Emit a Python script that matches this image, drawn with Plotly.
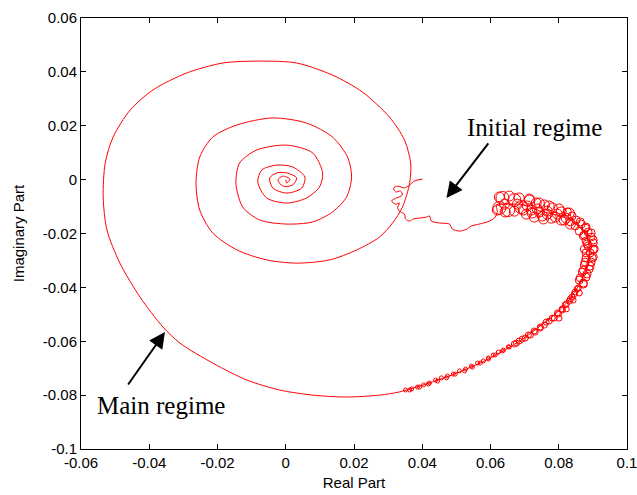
import plotly.graph_objects as go

# ---- trajectory (real, imaginary) ----
initial_re = [0.0401, 0.0377, 0.0363, 0.0348, 0.0328, 0.0316, 0.0322, 0.0336, 0.0342, 0.0325,
              0.0310, 0.0322, 0.0333, 0.0328, 0.0336, 0.0348, 0.0351, 0.0363, 0.0374, 0.0392,
              0.0412, 0.0421, 0.0427, 0.0450, 0.0480, 0.0488, 0.0509, 0.0532, 0.0544, 0.0567,
              0.0597, 0.0614, 0.0620]
initial_im = [0.0002, -0.0005, -0.0020, -0.0031, -0.0024, -0.0031, -0.0046, -0.0042, -0.0057, -0.0068,
              -0.0079, -0.0091, -0.0087, -0.0105, -0.0120, -0.0128, -0.0146, -0.0154, -0.0146, -0.0143,
              -0.0139, -0.0135, -0.0154, -0.0161, -0.0165, -0.0183, -0.0191, -0.0183, -0.0172, -0.0165,
              -0.0154, -0.0139, -0.0117]

band_re = [0.0617, 0.0655, 0.0699, 0.0746, 0.0793, 0.0834, 0.0863, 0.0883, 0.0889, 0.0886,
           0.0872, 0.0854, 0.0825, 0.0790, 0.0746, 0.0699, 0.0641, 0.0576, 0.0509, 0.0430, 0.0333]
band_im = [-0.0094, -0.0091, -0.0094, -0.0117, -0.0131, -0.0150, -0.0180, -0.0209, -0.0261, -0.0310,
           -0.0358, -0.0402, -0.0454, -0.0499, -0.0543, -0.0588, -0.0633, -0.0677, -0.0714, -0.0751, -0.0788]

spiral_re = [0.0275, 0.0178, 0.0079, -0.0018, -0.0114, -0.0214, -0.0310, -0.0360, -0.0427, -0.0486,
             -0.0524, -0.0535, -0.0529, -0.0506, -0.0456, -0.0389, -0.0290, -0.0184, -0.0076, 0.0032,
             0.0137, 0.0225, 0.0304, 0.0348, 0.0366, 0.0363, 0.0342, 0.0313, 0.0275, 0.0208,
             0.0129, 0.0032, -0.0056, -0.0143, -0.0214, -0.0252, -0.0263, -0.0252, -0.0214, -0.0143,
             -0.0038, 0.0061, 0.0137, 0.0181, 0.0193, 0.0178, 0.0137, 0.0079, 0.0003, -0.0076,
             -0.0126, -0.0146, -0.0135, -0.0085, 0.0003, 0.0079, 0.0108, 0.0099, 0.0061, 0.0003,
             -0.0056, -0.0082, -0.0070, -0.0026, 0.0020, 0.0056, 0.0047, 0.0003, -0.0038, -0.0047,
             -0.0026, 0.0003, 0.0032, 0.0020, -0.0009, -0.0023, -0.0009, 0.0012, 0.0003, 0.0000]
spiral_im = [-0.0800, -0.0807, -0.0800, -0.0781, -0.0744, -0.0681, -0.0607, -0.0547, -0.0436, -0.0310,
             -0.0187, -0.0065, 0.0062, 0.0158, 0.0258, 0.0333, 0.0396, 0.0433, 0.0440, 0.0433,
             0.0388, 0.0325, 0.0232, 0.0147, 0.0062, -0.0013, -0.0102, -0.0161, -0.0213, -0.0261,
             -0.0298, -0.0310, -0.0298, -0.0261, -0.0198, -0.0113, -0.0013, 0.0084, 0.0158, 0.0203,
             0.0229, 0.0210, 0.0158, 0.0084, 0.0010, -0.0065, -0.0120, -0.0157, -0.0165, -0.0150,
             -0.0102, -0.0013, 0.0062, 0.0110, 0.0128, 0.0099, 0.0025, -0.0027, -0.0068, -0.0087,
             -0.0068, -0.0009, 0.0036, 0.0054, 0.0047, 0.0010, -0.0031, -0.0050, -0.0031, 0.0006,
             0.0025, 0.0025, 0.0006, -0.0020, -0.0024, -0.0001, 0.0013, 0.0002, -0.0013, -0.0001]

# ---- loop centres along the transition band (grouped by loop size) ----
huge_loops_re = [0.0635, 0.0670, 0.0652, 0.0690, 0.0626]
huge_loops_im = [-0.0068, -0.0076, -0.0113, -0.0102, -0.0105]

big_loops_re = [0.0626, 0.0655, 0.0684, 0.0714, 0.0743, 0.0772, 0.0801, 0.0831,
                0.0620, 0.0643, 0.0670, 0.0696, 0.0722, 0.0752, 0.0778, 0.0807, 0.0834,
                0.0641, 0.0679, 0.0708, 0.0737, 0.0766, 0.0796, 0.0822,
                0.0714, 0.0734, 0.0758, 0.0720, 0.0743, 0.0766, 0.0705, 0.0781, 0.0790, 0.0807,
                0.0816, 0.0755, 0.0728]
big_loops_im = [-0.0065, -0.0061, -0.0068, -0.0076, -0.0087, -0.0098, -0.0109, -0.0124,
                -0.0113, -0.0120, -0.0117, -0.0113, -0.0124, -0.0135, -0.0143, -0.0150, -0.0165,
                -0.0091, -0.0091, -0.0098, -0.0109, -0.0117, -0.0128, -0.0143,
                -0.0072, -0.0087, -0.0094, -0.0113, -0.0120, -0.0128, -0.0128, -0.0105, -0.0139, -0.0120,
                -0.0150, -0.0146, -0.0139]

mid_loops_re = [0.0863, 0.0880, 0.0895, 0.0875, 0.0901, 0.0883, 0.0901, 0.0880, 0.0898, 0.0877,
                0.0892, 0.0872, 0.0883, 0.0863, 0.0872,
                0.0825, 0.0839, 0.0851, 0.0834, 0.0848, 0.0866, 0.0878, 0.0860, 0.0886, 0.0872,
                0.0895, 0.0880, 0.0901, 0.0886, 0.0904, 0.0875, 0.0892, 0.0901, 0.0880, 0.0895,
                0.0875, 0.0889, 0.0869, 0.0880, 0.0860, 0.0872]
mid_loops_im = [-0.0157, -0.0176, -0.0198, -0.0206, -0.0224, -0.0239, -0.0258, -0.0272, -0.0291, -0.0306,
                -0.0321, -0.0336, -0.0350, -0.0365, -0.0384,
                -0.0120, -0.0135, -0.0150, -0.0157, -0.0172, -0.0165, -0.0180, -0.0191, -0.0195, -0.0209,
                -0.0213, -0.0228, -0.0235, -0.0246, -0.0258, -0.0258, -0.0272, -0.0287, -0.0291, -0.0306,
                -0.0317, -0.0332, -0.0343, -0.0362, -0.0373, -0.0388]

small_loops_re = [0.0854, 0.0845, 0.0834, 0.0822, 0.0810, 0.0796, 0.0781, 0.0763, 0.0746, 0.0728,
                  0.0711, 0.0693, 0.0676,
                  0.0857, 0.0848, 0.0860, 0.0839, 0.0831, 0.0842, 0.0819, 0.0810, 0.0822, 0.0799,
                  0.0787, 0.0801, 0.0772, 0.0758, 0.0746, 0.0731, 0.0717, 0.0702, 0.0684, 0.0670]
small_loops_im = [-0.0406, -0.0425, -0.0443, -0.0462, -0.0480, -0.0495, -0.0514, -0.0529, -0.0547, -0.0562,
                  -0.0577, -0.0592, -0.0607,
                  -0.0402, -0.0417, -0.0421, -0.0436, -0.0451, -0.0447, -0.0465, -0.0484, -0.0480, -0.0499,
                  -0.0514, -0.0514, -0.0525, -0.0540, -0.0551, -0.0566, -0.0577, -0.0588, -0.0599, -0.0610]

tiny_loops_re = [0.0655, 0.0635, 0.0614, 0.0594, 0.0570, 0.0547, 0.0524, 0.0497, 0.0471, 0.0445,
                 0.0418, 0.0392, 0.0363,
                 0.0652, 0.0638, 0.0623, 0.0608, 0.0594, 0.0579, 0.0562, 0.0544, 0.0527, 0.0509,
                 0.0491, 0.0474, 0.0456, 0.0439, 0.0421, 0.0404, 0.0386, 0.0369, 0.0351]
tiny_loops_im = [-0.0621, -0.0636, -0.0651, -0.0666, -0.0681, -0.0696, -0.0710, -0.0722, -0.0736, -0.0748,
                 -0.0759, -0.0770, -0.0781,
                 -0.0621, -0.0633, -0.0640, -0.0651, -0.0662, -0.0673, -0.0681, -0.0692, -0.0703, -0.0710,
                 -0.0722, -0.0729, -0.0736, -0.0744, -0.0755, -0.0762, -0.0770, -0.0777, -0.0781]

x_tickvals = [-0.06, -0.04, -0.02, 0, 0.02, 0.04, 0.06, 0.08, 0.1]
x_ticktext = ["-0.06", "-0.04", "-0.02", "0", "0.02", "0.04", "0.06", "0.08", "0.1"]
y_tickvals = [-0.1, -0.08, -0.06, -0.04, -0.02, 0, 0.02, 0.04, 0.06]
y_ticktext = ["-0.1", "-0.08", "-0.06", "-0.04", "-0.02", "0", "0.02", "0.04", "0.06"]

RED = "#ff0000"
traj_re = initial_re + band_re + spiral_re
traj_im = initial_im + band_im + spiral_im

fig = go.Figure()
fig.add_trace(go.Scatter(x=traj_re, y=traj_im, mode="lines",
                         line=dict(color=RED, width=1, shape="spline", smoothing=0.8),
                         showlegend=False, hoverinfo="skip"))
for xs, ys, sz in [(huge_loops_re, huge_loops_im, 13), (big_loops_re, big_loops_im, 10),
                   (mid_loops_re, mid_loops_im, 8), (small_loops_re, small_loops_im, 6),
                   (tiny_loops_re, tiny_loops_im, 4)]:
    fig.add_trace(go.Scatter(x=xs, y=ys, mode="markers",
                             marker=dict(symbol="circle-open", size=sz, color=RED,
                                         line=dict(width=1, color=RED)),
                             showlegend=False, hoverinfo="skip"))

FONT = "Liberation Sans, Arial"
axis_common = dict(showgrid=False, zeroline=False, showline=True, linecolor="black", linewidth=1,
                   mirror="ticks", ticks="inside", ticklen=5, tickcolor="black", automargin=False,
                   ticklabeloverflow="allow",
                   tickfont=dict(family=FONT, size=15, color="black"))
fig.update_xaxes(range=[-0.06, 0.1], tickvals=x_tickvals, ticktext=x_ticktext,
                 title=dict(text="Real Part", font=dict(family=FONT, size=15, color="black"),
                            standoff=7), **axis_common)
fig.update_yaxes(range=[-0.1, 0.06], tickvals=y_tickvals, ticktext=y_ticktext,
                 title=dict(text="Imaginary Part", font=dict(family=FONT, size=15, color="black"),
                            standoff=14), **axis_common)

ann_font = dict(family="Liberation Serif, Times New Roman", size=25, color="black")
fig.add_annotation(x=0.0471, y=-0.0068, ax=0.0597, ay=0.0140, xref="x", yref="y", axref="x", ayref="y",
                   text="", showarrow=True, arrowhead=2, arrowsize=1.6, arrowwidth=2, arrowcolor="black")
fig.add_annotation(x=0.0728, y=0.0192, xref="x", yref="y", text="Initial regime", showarrow=False, font=ann_font)
fig.add_annotation(x=-0.0354, y=-0.0566, ax=-0.0465, ay=-0.0766, xref="x", yref="y", axref="x", ayref="y",
                   text="", showarrow=True, arrowhead=2, arrowsize=1.6, arrowwidth=2, arrowcolor="black")
fig.add_annotation(x=-0.0366, y=-0.0837, xref="x", yref="y", text="Main regime", showarrow=False, font=ann_font)

fig.update_layout(width=637, height=495, margin=dict(l=81, r=10, t=18, b=46),
                  paper_bgcolor="white", plot_bgcolor="white")
fig.write_html("out.html")
